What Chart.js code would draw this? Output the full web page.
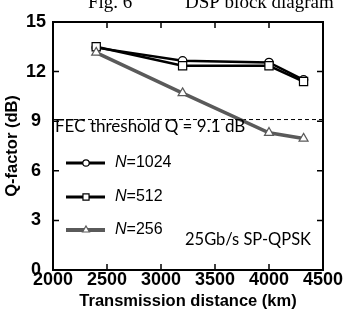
<!DOCTYPE html>
<html>
<head>
<meta charset="utf-8">
<script src="https://cdn.jsdelivr.net/npm/chart.js@4.4.1/dist/chart.umd.min.js"></script>
<style>
  html, body { margin: 0; padding: 0; background: #fff; }
</style>
</head>
<body>
<canvas id="qChart" width="344" height="315"></canvas>
<script>
// values
const distances = [2400, 3200, 4000, 4320];
const q1024 = [13.45, 12.65, 12.55, 11.5];
const q512 = [13.5, 12.35, 12.35, 11.4];
const q256 = [13.15, 10.7, 8.3, 7.95];
const seriesNames = ['1024', '512', '256'];
const xTicks = [2000, 2500, 3000, 3500, 4000, 4500];
const yTicks = [0, 3, 6, 9, 12, 15];
const fecThreshold = 9.1;

const axisFont = { family: 'Liberation Sans', size: 18, weight: 'bold' };
const titleFont = { family: 'Liberation Sans', size: 16.5, weight: 'bold' };
const noteFont = '17px Lato';

function toPoints(ys) {
  return distances.map((d, i) => ({ x: d, y: ys[i] }));
}

const series = [
  { name: seriesNames[0], data: q1024, color: '#000', width: 2.5, style: 'circle', radius: 4.2, legendRadius: 3.2 },
  { name: seriesNames[1], data: q512, color: '#000', width: 2.5, style: 'rect', radius: 5.8, legendRadius: 4.3 },
  { name: seriesNames[2], data: q256, color: '#5a5a5a', width: 3.5, style: 'triangle', radius: 5.2, legendRadius: 4 }
];

// frame, inward ticks, threshold line and text notes
const decorPlugin = {
  id: 'decor',
  beforeDatasetsDraw(chart) {
    const { ctx, chartArea: a, scales: { y } } = chart;
    const yy = y.getPixelForValue(fecThreshold);
    ctx.save();
    ctx.strokeStyle = '#000';
    ctx.lineWidth = 1;
    ctx.setLineDash([4, 3]);
    ctx.beginPath();
    ctx.moveTo(a.left, yy);
    ctx.lineTo(a.right, yy);
    ctx.stroke();
    ctx.restore();
  },
  afterDraw(chart) {
    const { ctx, chartArea: a, scales: { x, y } } = chart;
    ctx.save();
    ctx.strokeStyle = '#000';
    ctx.lineWidth = 2;
    ctx.strokeRect(a.left, a.top, a.right - a.left, a.bottom - a.top);

    const tl = 6;
    ctx.lineWidth = 1.5;
    ctx.beginPath();
    xTicks.slice(1, -1).forEach(v => {
      const px = x.getPixelForValue(v);
      ctx.moveTo(px, a.bottom); ctx.lineTo(px, a.bottom - tl);
      ctx.moveTo(px, a.top); ctx.lineTo(px, a.top + tl);
    });
    yTicks.slice(1, -1).forEach(v => {
      const py = y.getPixelForValue(v);
      ctx.moveTo(a.left, py); ctx.lineTo(a.left + tl, py);
      ctx.moveTo(a.right, py); ctx.lineTo(a.right - tl, py);
    });
    ctx.stroke();

    // legend inside plot
    const legendY = [163, 197, 230];
    series.forEach((s, i) => {
      const ly = legendY[i];
      ctx.strokeStyle = s.color;
      ctx.lineWidth = s.width + 0.5;
      ctx.beginPath();
      ctx.moveTo(66, ly); ctx.lineTo(105, ly);
      ctx.stroke();
      ctx.fillStyle = '#fff';
      ctx.strokeStyle = s.color;
      ctx.lineWidth = 1.2;
      Chart.helpers.drawPoint(ctx, { pointStyle: s.style, radius: s.legendRadius, rotation: 0, borderWidth: 1.2 }, 86, ly);

      ctx.fillStyle = '#000';
      ctx.textBaseline = 'middle';
      ctx.textAlign = 'left';
      ctx.font = 'italic 16px Liberation Sans';
      ctx.fillText('N', 115, ly);
      const nw = ctx.measureText('N').width;
      ctx.font = '16px Liberation Sans';
      ctx.fillText('=' + s.name, 115 + nw, ly);
    });

    ctx.textBaseline = 'middle';
    ctx.fillStyle = '#000';
    ctx.font = noteFont;
    ctx.fillText('FEC threshold Q = 9.1 dB', 55, 127);
    ctx.font = '16.5px Lato';
    ctx.fillText('25Gb/s SP-QPSK', 185, 240);

    // cropped caption of the page above
    ctx.font = '19px Liberation Serif';
    ctx.textBaseline = 'alphabetic';
    ctx.fillText('Fig. 6', 88, 8);
    ctx.fillText('DSP block diagram', 185, 8);
    ctx.restore();
  }
};

new Chart(document.getElementById('qChart'), {
  type: 'line',
  data: {
    datasets: series.slice().reverse().map(s => ({
      label: 'N=' + s.name,
      data: toPoints(s.data),
      borderColor: s.color,
      borderWidth: s.width,
      pointStyle: s.style,
      pointRadius: s.radius,
      pointBorderWidth: 1.2,
      pointBackgroundColor: '#fff',
      pointBorderColor: s.color,
      tension: 0
    }))
  },
  options: {
    responsive: false,
    animation: false,
    layout: { padding: { top: 22, right: 21, left: 0, bottom: 0 } },
    plugins: { legend: { display: false }, tooltip: { enabled: false } },
    scales: {
      x: {
        type: 'linear',
        min: 2000,
        max: 4500,
        afterBuildTicks: s => { s.ticks = xTicks.map(v => ({ value: v })); },
        afterFit: s => { s.height = 45; },
        grid: { display: false, drawTicks: false },
        border: { display: false },
        ticks: { font: axisFont, color: '#000', padding: -1, maxRotation: 0, callback: v => String(v) },
        title: { display: true, text: 'Transmission distance (km)', font: titleFont, color: '#000', padding: { top: 5 } }
      },
      y: {
        min: 0,
        max: 15,
        afterBuildTicks: s => { s.ticks = yTicks.map(v => ({ value: v })); },
        afterFit: s => { s.width = 53; },
        grid: { display: false, drawTicks: false },
        border: { display: false },
        ticks: { font: axisFont, color: '#000', padding: 7, crossAlign: 'center' },
        title: { display: true, text: 'Q-factor (dB)', font: titleFont, color: '#000', padding: { top: 3, bottom: 4 } }
      }
    }
  },
  plugins: [decorPlugin]
});
</script>
</body>
</html>
